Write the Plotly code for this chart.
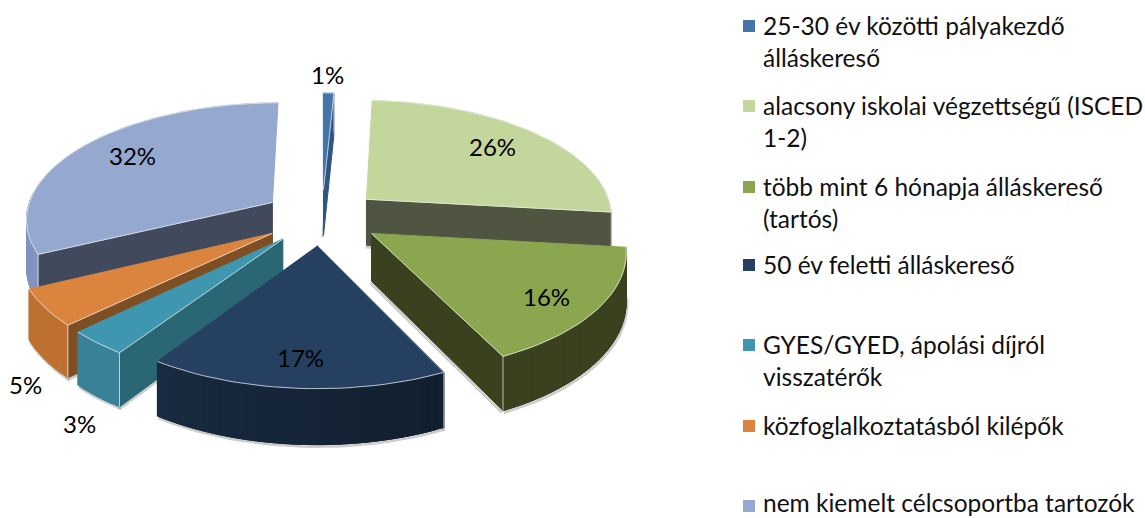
import math
import plotly.graph_objects as go

categories = ["25-30 év közötti pályakezdő<br>álláskereső",
              "alacsony iskolai végzettségű (ISCED<br>1-2)",
              "több mint 6 hónapja álláskereső<br>(tartós)",
              "50 év feletti álláskereső",
              "GYES/GYED, ápolási díjról<br>visszatérők",
              "közfoglalkoztatásból kilépők",
              "nem kiemelt célcsoportba tartozók"]
values = [0.8, 26, 16, 16.6, 3.4, 5, 32.2]

top_colors = ["#4474A9", "#C3D69B", "#8AA64F", "#254061", "#3F97AF", "#DB843D", "#95A8D0"]
wall_colors = ["#2F5580", "#4F5540", "#3A411E", "#3A411E", "#2B6675", "#7F4F24", "#414A5C"]
outer_a = ["#3F6C9E", "#6F7F50", "#3A411E", "#1D3049", "#3A8398", "#BE7130", "#8094BE"]
outer_b = ["#3F6C9E", "#6F7F50", "#3A411E", "#0C1823", "#357A8E", "#B56C2E", "#8094BE"]
legend_y = [26, 106, 187, 265, 345, 426, 506]
label_xy = [(327, 74), (492, 146), (546, 296), (300, 357), (79, 423), (25, 384), (132, 155)]

CX, CY, R, T, A, H, E = 322, 217, 247, 0.47, 0.13, 47, 59.5


def project(X, Y, Z=0.0):
    s = 1 / (1 + A * Y / R)
    return CX + X * s, CY - Y * T * s + Z * s


def hex2(c):
    return [int(c[i:i + 2], 16) for i in (1, 3, 5)]


def mix(a, b, f):
    p, q = hex2(a), hex2(b)
    return "#%02x%02x%02x" % tuple(round(p[i] + (q[i] - p[i]) * f) for i in range(3))


fig = go.Figure()


def poly(pts, color, line=None):
    fig.add_trace(go.Scatter(x=[p[0] for p in pts] + [pts[0][0]],
                             y=[p[1] for p in pts] + [pts[0][1]],
                             mode="lines", fill="toself", fillcolor=color,
                             line=dict(color=line or color, width=1),
                             hoverinfo="skip", showlegend=False))


def stroke(pts, color, width=1.0):
    fig.add_trace(go.Scatter(x=[p[0] for p in pts], y=[p[1] for p in pts], mode="lines",
                             line=dict(color=color, width=width),
                             hoverinfo="skip", showlegend=False))


total = sum(values)
starts = []
acc = 0.0
for v in values:
    starts.append(acc)
    acc += v / total * 2 * math.pi

order = [0, 6, 1, 5, 4, 2, 3]
for i in order:
    a0 = starts[i]
    a1 = a0 + values[i] / total * 2 * math.pi
    mid = (a0 + a1) / 2
    ox, oy = E * math.sin(mid), E * math.cos(mid)
    n = max(4, int(values[i] * 2))
    angs = [a0 + (a1 - a0) * k / n for k in range(n + 1)]
    rim = [(ox + R * math.sin(a), oy + R * math.cos(a)) for a in angs]
    t_rim = [project(x, y) for x, y in rim]
    b_rim = [project(x, y, H) for x, y in rim]
    t_tip = project(ox, oy)
    b_tip = project(ox, oy, H)
    back_slice = math.cos(mid) > 0.5
    shadow = "rgba(110,110,110,0.35)"
    if not back_slice:
        stroke([(x + 1, y + 2) for x, y in b_rim], shadow, 2.5)
    if mid < math.pi:
        stroke([(b_tip[0] - 1, b_tip[1] + 2), (b_rim[-1][0] - 1, b_rim[-1][1] + 2)], shadow, 2.5)
        poly([t_tip, t_rim[-1], b_rim[-1], b_tip], wall_colors[i])
    else:
        stroke([(b_tip[0], b_tip[1] + 2), (b_rim[0][0], b_rim[0][1] + 2)], shadow, 2.5)
        poly([t_tip, t_rim[0], b_rim[0], b_tip], wall_colors[i])
    # rim wall, only the part facing the viewer; each strip overlaps the next to hide seams
    if i != 1:
        for k in range(n):
            am = (angs[k] + angs[k + 1]) / 2
            if math.cos(am) < 0.05:
                e = min(k + 2, n)
                poly([t_rim[k], t_rim[e], b_rim[e], b_rim[k]],
                     mix(outer_a[i], outer_b[i], (math.sin(am) + 1) / 2))
    poly([t_tip] + t_rim, top_colors[i])
    edge = "rgba(235,235,235,0.75)"
    stroke([t_tip, t_rim[0]] if mid > math.pi else [t_tip, t_rim[-1]], edge)
    stroke(t_rim, edge)
    corner = t_rim[-1] if mid < math.pi else t_rim[0]
    base = b_rim[-1] if mid < math.pi else b_rim[0]
    stroke([corner, base], edge)

for i, v in enumerate(values):
    fig.add_annotation(x=label_xy[i][0], y=label_xy[i][1], text=f"{round(v)}%", showarrow=False,
                       font=dict(family="Lato", size=24, color="#000000"),
                       xanchor="center", yanchor="middle")

fig.add_trace(go.Scatter(x=[749] * len(categories), y=legend_y, mode="markers",
                         marker=dict(symbol="square", size=12, color=top_colors),
                         hoverinfo="skip", showlegend=False))
for i, c in enumerate(categories):
    last = i == len(categories) - 1
    fig.add_annotation(x=761, y=legend_y[i] - (20 if last else 17), text=c, showarrow=False,
                       align="left", font=dict(family="Lato", size=24.5, color="#111111"),
                       xanchor="left", yanchor="top")

fig.update_layout(width=1145, height=518, margin=dict(l=0, r=0, t=0, b=0),
                  paper_bgcolor="white", plot_bgcolor="white", showlegend=False,
                  xaxis=dict(range=[0, 1145], visible=False, fixedrange=True),
                  yaxis=dict(range=[518, 0], visible=False, fixedrange=True))
fig.write_html("out.html", config=dict(displayModeBar=False),
               post_script="document.body.style.margin='0';")
